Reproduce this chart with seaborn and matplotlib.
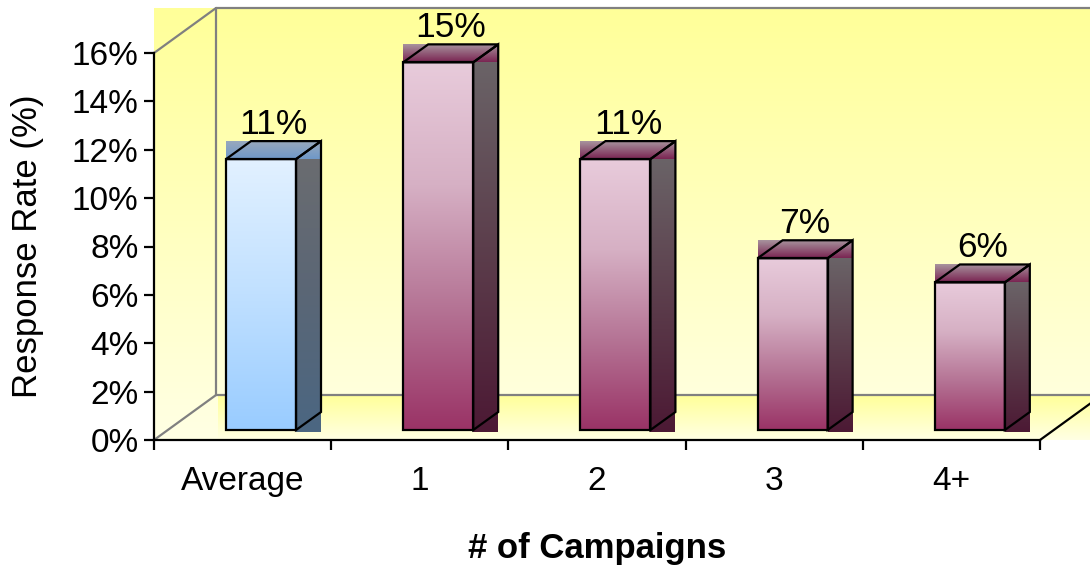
import numpy as np
import pandas as pd
import matplotlib
matplotlib.use("Agg")
import matplotlib.pyplot as plt
import seaborn as sns
from matplotlib.colors import LinearSegmentedColormap
from matplotlib.patches import Polygon
from matplotlib.lines import Line2D

# ---- data -------------------------------------------------------------
categories = ["Average", "1", "2", "3", "4+"]
response_rate = [11.2, 15.2, 11.2, 7.1, 6.1]          # percent
y_ticks = [0, 2, 4, 6, 8, 10, 12, 14, 16]
y_tick_labels = [f"{t}%" for t in y_ticks]
x_title = "# of Campaigns"
y_title = "Response Rate (%)"

# ---- 3-D look (oblique projection, in data units) ----------------------
WALL_DX, WALL_DY = 0.35, 1.86      # depth of the chart box
BAR_DX, BAR_DY = 0.141, 0.744      # depth of one bar
BAR_SHIFT, BAR_BASE = 0.104, 0.413 # bar front face sits inside the box
BAR_W = 0.395

YELLOW, PALE = "#ffff99", "#ffffe4"
GRAY = "#808080"

sns.set_theme(style="white")
plt.rcParams["font.family"] = ["Liberation Sans", "DejaVu Sans"]

fig = plt.figure(figsize=(10.9, 5.65), dpi=100, facecolor="white")
ax = fig.add_axes([154 / 1090, 125 / 565, 886 / 1090, 387 / 565])
ax.set_facecolor("none")


def vgrad(x0, x1, y0, y1, stops, zorder):
    """Vertical gradient rectangle; stops run from bottom to top."""
    cmap = LinearSegmentedColormap.from_list("g", stops)
    arr = np.linspace(0, 1, 256).reshape(-1, 1)
    im = ax.imshow(arr, cmap=cmap, extent=(x0, x1, y0, y1), origin="lower",
                   aspect="auto", interpolation="bilinear", zorder=zorder)
    im.set_clip_on(False)
    return im


x_left, x_right = -0.5, len(categories) - 0.5
y_top = y_ticks[-1]

# chart box: walls and floor
vgrad(x_left, x_right + WALL_DX, 0, y_top + WALL_DY, [PALE, YELLOW], 0)
vgrad(x_left + WALL_DX + 0.01, x_right + WALL_DX, 0, WALL_DY, [PALE, YELLOW], 0.5)

gray_lines = [
    ((x_left + WALL_DX, x_right + WALL_DX), (y_top + WALL_DY, y_top + WALL_DY)),
    ((x_left + WALL_DX, x_left + WALL_DX), (WALL_DY, y_top + WALL_DY)),
    ((x_left + WALL_DX, x_right + WALL_DX), (WALL_DY, WALL_DY)),
    ((x_left, x_left + WALL_DX), (y_top, y_top + WALL_DY)),
    ((x_left, x_left + WALL_DX), (0, WALL_DY)),
]
for xs, ys in gray_lines:
    ax.add_line(Line2D(xs, ys, color=GRAY, lw=1.6, zorder=1, clip_on=False))
ax.add_line(Line2D((x_right, x_right + WALL_DX), (0, WALL_DY), color="black",
                   lw=1.6, zorder=1.2, clip_on=False))

# ---- bars --------------------------------------------------------------
df = pd.DataFrame({"campaigns": categories, "rate": response_rate})
sns.barplot(data=df, x="campaigns", y="rate", order=categories, ax=ax,
            width=BAR_W, errorbar=None, color="white", linewidth=0)

blue_style = dict(
    front=["#99ccff", "#c0e0ff", "#e2f1ff"],
    side=["#4b6782", "#5a6676", "#6a6c70"],
    top=["#6f98c8", "#99a9bd"],
)
pink_style = dict(
    front=["#9a3366", "#b57495", "#d6b0c4", "#e8cbdb"],
    side=["#4c1934", "#5c3e4c", "#6a6367"],
    top=["#7a2452", "#a8949e"],
)

for i, patch in enumerate(ax.patches):
    style = blue_style if i == 0 else pink_style
    patch.set_x(patch.get_x() + BAR_SHIFT)
    patch.set_y(BAR_BASE)
    patch.set_facecolor("none")
    patch.set_edgecolor("black")
    patch.set_linewidth(1.6)
    patch.set_zorder(4)
    patch.set_clip_on(False)

    fx0 = patch.get_x()
    fx1 = fx0 + patch.get_width()
    b = patch.get_y()
    t = b + patch.get_height()

    vgrad(fx0, fx1, b, t, style["front"], 2)
    vgrad(fx1, fx1 + BAR_DX, b - 0.08, t, style["side"], 2)
    vgrad(fx0, fx1 + BAR_DX, t, t + BAR_DY, style["top"], 2)

    top_face = [(fx0, t), (fx0 + BAR_DX, t + BAR_DY),
                (fx1 + BAR_DX, t + BAR_DY), (fx1, t)]
    side_face = [(fx1, t), (fx1 + BAR_DX, t + BAR_DY),
                 (fx1 + BAR_DX, b + BAR_DY), (fx1, b)]
    for poly in (top_face, side_face):
        ax.add_patch(Polygon(poly, closed=True, facecolor="none",
                             edgecolor="black", lw=1.6, zorder=4,
                             joinstyle="miter", clip_on=False))

    ax.text((fx0 + fx1 + BAR_DX) / 2, t + BAR_DY + 0.3,
            f"{response_rate[i]:.0f}%", ha="center", va="baseline",
            fontsize=25.5, color="black", zorder=5, clip_on=False)

# ---- axes --------------------------------------------------------------
ax.set_xlim(x_left, x_right)
ax.set_ylim(0, y_top)

for side in ("top", "right"):
    ax.spines[side].set_visible(False)
for side in ("left", "bottom"):
    ax.spines[side].set_color("black")
    ax.spines[side].set_linewidth(1.6)
    ax.spines[side].set_zorder(3)

ax.set_yticks(y_ticks, y_tick_labels)
ax.tick_params(axis="y", which="major", left=True, direction="out",
               length=7, width=1.6, color="black", labelsize=24,
               labelcolor="black", pad=4)

ax.set_xticks(np.arange(x_left, x_right + 0.5, 1))
ax.set_xticks(range(len(categories)), categories, minor=True)
ax.tick_params(axis="x", which="major", bottom=True, direction="out",
               length=7, width=1.6, color="black", labelbottom=False)
ax.tick_params(axis="x", which="minor", bottom=True, length=0,
               labelsize=24, labelcolor="black", pad=19)

ax.set_xlabel(x_title, fontsize=25, fontweight="bold", color="black")
ax.xaxis.set_label_coords(0.5, -0.237)
ax.set_ylabel(y_title, fontsize=25, color="black")
ax.yaxis.set_label_coords(-0.124, 0.5)
ax.grid(False)

fig.savefig("out.png", dpi=100, facecolor="white")
